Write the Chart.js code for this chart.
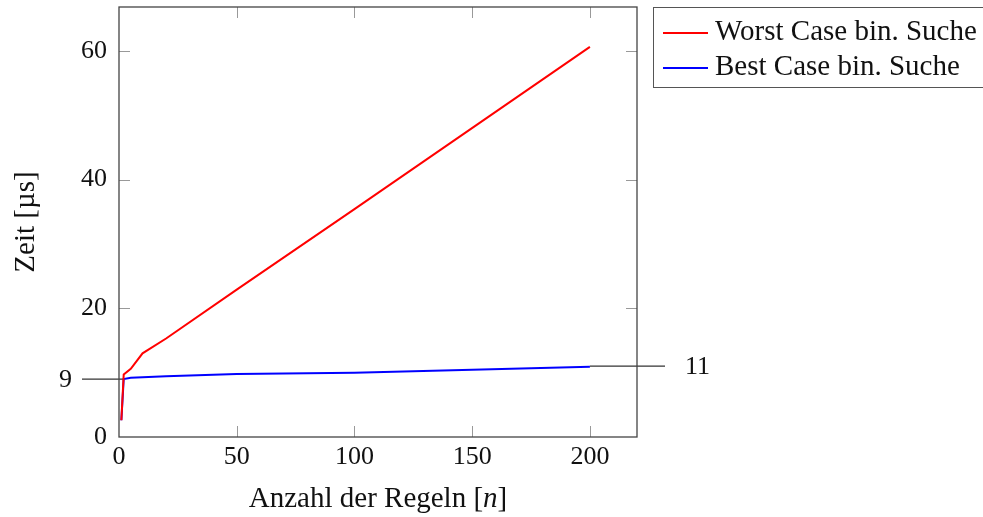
<!DOCTYPE html>
<html>
<head>
<meta charset="utf-8">
<script src="https://cdn.jsdelivr.net/npm/chart.js@4/dist/chart.umd.min.js"></script>
<style>
  body { margin: 0; background: #fff; }
  #wrap { position: relative; width: 983px; height: 517px; }
  #legend {
    position: absolute; left: 653px; top: 7px; width: 340px; height: 81px;
    border: 1px solid #555; box-sizing: border-box;
    font-family: "Liberation Serif", serif; font-size: 29px; color: #111;
  }
  .row { position: absolute; left: 9px; height: 34px; line-height: 34px; white-space: nowrap; }
  .row span.line { display: inline-block; width: 45px; height: 2px; vertical-align: middle; margin-right: 7px; }
</style>
</head>
<body>
<div id="wrap">
  <canvas id="myChart" width="983" height="517"></canvas>
  <div id="legend">
    <div class="row" style="top:5px"><span class="line" style="background:#ff0000"></span>Worst Case bin. Suche</div>
    <div class="row" style="top:40px"><span class="line" style="background:#0000ff"></span>Best Case bin. Suche</div>
  </div>
</div>
<script>
const regeln = [1, 2, 5, 10, 20, 50, 100, 200];
const worstCase = [2.6, 9.7, 10.6, 13.0, 15.3, 22.9, 35.4, 60.6];
const bestCase = [2.6, 9.0, 9.2, 9.3, 9.45, 9.8, 10.0, 10.9];
const xTicks = [0, 50, 100, 150, 200];
const yTicks = [0, 9, 20, 40, 60];
const leftExtra = 9;
const rightExtra = 11;

const ctx = document.getElementById("myChart");
const tickFont = { family: "Liberation Serif", size: 26 };
const titleFont = "29px 'Liberation Serif'";
const titleItalic = "italic 29px 'Liberation Serif'";

const extras = {
  id: "extras",
  beforeDatasetsDraw(chart) {
    const c = chart.ctx;
    const a = chart.chartArea;
    const x = chart.scales.x;
    const y = chart.scales.y;
    c.save();
    // inner tick marks
    c.strokeStyle = "#999";
    c.lineWidth = 1;
    xTicks.forEach((v) => {
      if (v === 0) return;
      const px = Math.round(x.getPixelForValue(v)) + 0.5;
      c.beginPath();
      c.moveTo(px, a.bottom); c.lineTo(px, a.bottom - 11);
      c.moveTo(px, a.top); c.lineTo(px, a.top + 11);
      c.stroke();
    });
    yTicks.forEach((v) => {
      if (v === 0 || v === leftExtra) return;
      const py = Math.round(y.getPixelForValue(v)) + 0.5;
      c.beginPath();
      c.moveTo(a.left, py); c.lineTo(a.left + 11, py);
      c.moveTo(a.right, py); c.lineTo(a.right - 11, py);
      c.stroke();
    });
    // extra lines at 9 and 11
    c.strokeStyle = "#333";
    c.lineWidth = 1.3;
    const p9 = y.getPixelForValue(leftExtra);
    c.beginPath();
    c.moveTo(82, p9); c.lineTo(x.getPixelForValue(2), p9);
    c.stroke();
    const p11 = y.getPixelForValue(rightExtra);
    c.beginPath();
    c.moveTo(x.getPixelForValue(200), p11); c.lineTo(665, p11);
    c.stroke();
    c.restore();
  },
  afterDraw(chart) {
    const c = chart.ctx;
    const a = chart.chartArea;
    const y = chart.scales.y;
    c.save();
    c.strokeStyle = "#444";
    c.lineWidth = 1.3;
    c.strokeRect(a.left, a.top, a.right - a.left, a.bottom - a.top);
    c.fillStyle = "#111";
    c.font = "26px 'Liberation Serif'";
    c.textBaseline = "middle";
    c.textAlign = "left";
    c.fillText(String(rightExtra), 685, y.getPixelForValue(rightExtra) + 1);
    c.textAlign = "right";
    c.fillText(String(leftExtra), 72, y.getPixelForValue(leftExtra) + 1);
    // x title with italic n
    c.textAlign = "left";
    const cx = (a.left + a.right) / 2;
    const t1 = "Anzahl der Regeln [";
    c.font = titleFont;
    const w1 = c.measureText(t1).width;
    c.font = titleItalic;
    const w2 = c.measureText("n").width;
    c.font = titleFont;
    const w3 = c.measureText("]").width;
    const sx = cx - (w1 + w2 + w3) / 2;
    const ty = 499;
    c.fillText(t1, sx, ty);
    c.font = titleItalic;
    c.fillText("n", sx + w1, ty);
    c.font = titleFont;
    c.fillText("]", sx + w1 + w2, ty);
    // y title
    c.translate(26, (a.top + a.bottom) / 2);
    c.rotate(-Math.PI / 2);
    c.textAlign = "center";
    c.fillText("Zeit [µs]", 0, 0);
    c.restore();
  },
};

new Chart(ctx, {
  type: "scatter",
  data: {
    datasets: [
      {
        label: "Worst Case bin. Suche",
        data: regeln.map((n, i) => ({ x: n, y: worstCase[i] })),
        borderColor: "#ff0000",
        showLine: true,
        borderWidth: 2,
        pointRadius: 0,
      },
      {
        label: "Best Case bin. Suche",
        data: regeln.map((n, i) => ({ x: n, y: bestCase[i] })),
        borderColor: "#0000ff",
        showLine: true,
        borderWidth: 2,
        pointRadius: 0,
      },
    ],
  },
  options: {
    responsive: false,
    animation: false,
    layout: { padding: { top: 7, right: 346, left: 0, bottom: 0 } },
    plugins: { legend: { display: false }, tooltip: { enabled: false } },
    scales: {
      x: {
        type: "linear",
        min: 0,
        max: 220,
        grid: { display: false, drawTicks: false },
        border: { display: false },
        afterBuildTicks: (s) => { s.ticks = xTicks.map((v) => ({ value: v })); },
        afterFit: (s) => { s.height = 80; s.paddingLeft = 0; s.paddingRight = 0; },
        ticks: { font: tickFont, color: "#111", padding: 5, maxRotation: 0 },
      },
      y: {
        type: "linear",
        min: 0,
        max: 66.8,
        grid: { display: false, drawTicks: false },
        border: { display: false },
        afterBuildTicks: (s) => { s.ticks = yTicks.map((v) => ({ value: v })); },
        afterFit: (s) => { s.width = 119; s.paddingTop = 0; s.paddingBottom = 0; },
        ticks: {
          font: tickFont,
          color: "#111",
          padding: 12,
          callback: (v) => (v === leftExtra ? "" : String(v)),
        },
      },
    },
  },
  plugins: [extras],
});
</script>
</body>
</html>
